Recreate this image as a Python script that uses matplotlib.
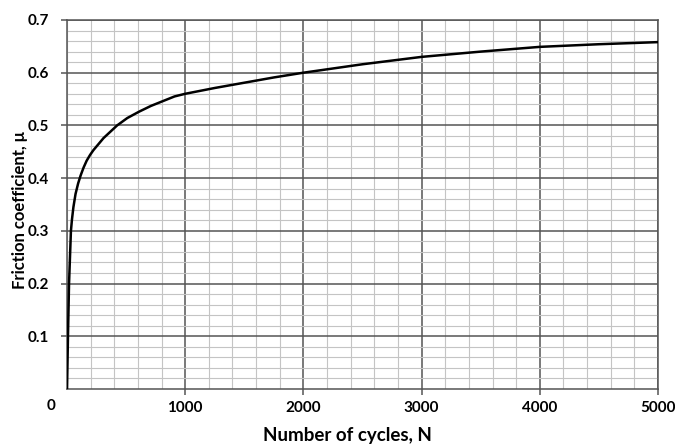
import numpy as np
import matplotlib
matplotlib.use('Agg')
import matplotlib.pyplot as plt
from matplotlib.ticker import MultipleLocator

# values
cycles = [0, 4, 8, 17, 33, 42, 54, 72, 94, 115, 140, 166, 195, 223, 309, 424,
          510, 609, 710, 810, 910, 1000, 1250, 1500, 1750, 2000, 2500, 3000,
          3500, 4000, 4500, 5000]
mu = [0.0, 0.05, 0.10, 0.20, 0.30, 0.322, 0.345, 0.37, 0.39, 0.405, 0.42,
      0.433, 0.444, 0.453, 0.476, 0.50, 0.514, 0.526, 0.537, 0.546, 0.555,
      0.560, 0.571, 0.581, 0.591, 0.600, 0.616, 0.630, 0.640, 0.649, 0.654,
      0.658]

x_ticks = [1000, 2000, 3000, 4000, 5000]
y_ticks = [0.1, 0.2, 0.3, 0.4, 0.5, 0.6, 0.7]

plt.rcParams['font.family'] = ['Lato', 'DejaVu Sans']
plt.rcParams['font.weight'] = 'bold'

fig = plt.figure(figsize=(6.75, 4.44), dpi=100)
ax = fig.add_axes([0.0993, 0.1239, 0.8755, 0.8311])

ax.plot(cycles, mu, color='black', linewidth=1.8, solid_joinstyle='round',
        solid_capstyle='round', zorder=5)

ax.set_xlim(0, 5000)
ax.set_ylim(0, 0.7)
ax.xaxis.set_minor_locator(MultipleLocator(200))
ax.yaxis.set_minor_locator(MultipleLocator(0.02))
ax.set_xticks(x_ticks)
ax.set_yticks(y_ticks)
ax.set_xticklabels([str(t) for t in x_ticks])
ax.set_yticklabels([f'{t:.1f}' for t in y_ticks])

ax.grid(which='major', color='#555555', linewidth=1.1)
ax.grid(which='minor', color='#c4c4c4', linewidth=0.8)
ax.set_axisbelow(True)

for s in ax.spines.values():
    s.set_color('#555555')
    s.set_linewidth(1.1)

ax.tick_params(which='major', length=4, width=1.1, color='#555555',
               labelsize=11)
ax.tick_params(which='minor', length=0)
ax.tick_params(axis='x', pad=5)
ax.tick_params(axis='y', pad=9)
ax.text(-0.027, -0.045, '0', transform=ax.transAxes, ha='center', va='center',
        fontsize=11, fontweight='bold')

ax.set_xlabel('Number of cycles, N', fontsize=13.5, fontweight='bold')
ax.xaxis.set_label_coords(0.474, -0.104)
ax.set_ylabel('Friction coefficient, \u03bc', fontsize=12, fontweight='bold')
ax.yaxis.set_label_coords(-0.066, 0.485)

fig.savefig('out.png', dpi=100)
